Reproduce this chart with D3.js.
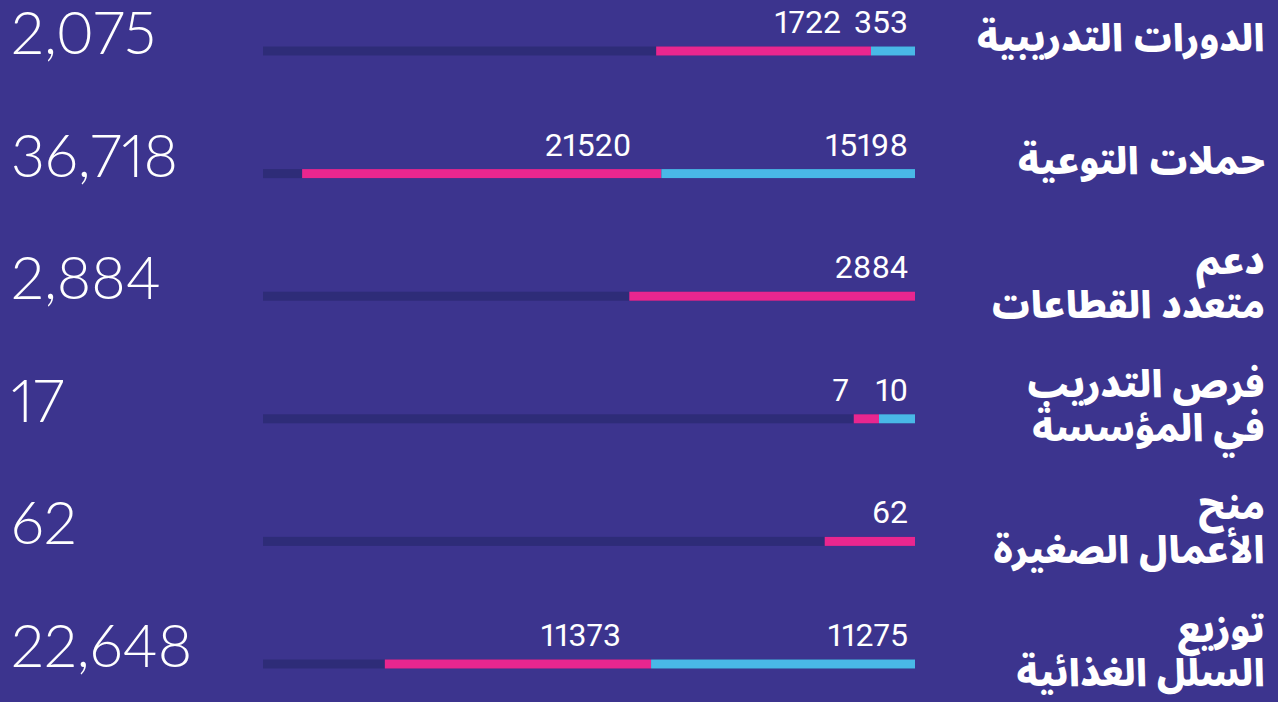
<!DOCTYPE html>
<html>
<head>
<meta charset="utf-8">
<script src="https://cdn.jsdelivr.net/npm/d3@7"></script>
<style>
  html, body { margin: 0; padding: 0; background: #3c348e; }
  svg { display: block; }
  .num { font-variant-numeric: proportional-nums; font-feature-settings: "pnum" 1; }
</style>
</head>
<body>
<svg id="bars" width="1278" height="702"></svg>
<script>
// categories (each label split in its printed lines)
const categories = [
  ["الدورات التدريبية"],
  ["حملات التوعية"],
  ["دعم", "متعدد القطاعات"],
  ["فرص التدريب", "في المؤسسة"],
  ["منح", "الأعمال الصغيرة"],
  ["توزيع", "السلل الغذائية"]
];
const pinkValues = [1722, 21520, 2884, 7, 62, 11373];
const blueValues = [353, 15198, 0, 10, 0, 11275];

const rows = categories.map((c, i) => ({
  key: i,
  label: c,
  pink: pinkValues[i],
  blue: blueValues[i],
  total: pinkValues[i] + blueValues[i]
}));

let svg = d3.select("#bars"),
  width = +svg.attr("width"),
  trackLeft = 263,
  trackRight = 915,
  barH = 9;

svg.append("rect")
  .attr("width", width)
  .attr("height", svg.attr("height"))
  .attr("fill", "#3c348e");

let yScale = d3.scalePoint()
  .domain(rows.map(d => d.key))
  .range([51, 664]);

// bars are not linear in the original, a soft power scale is the closest fit
let wScale = d3.scalePow()
  .exponent(0.3)
  .domain([0, d3.max(rows, d => d.total)])
  .range([0, (trackRight - trackLeft) * 0.94]);

const fmt = d3.format(",");

let g = svg.selectAll(".row")
  .data(rows)
  .enter()
  .append("g")
  .attr("class", "row")
  .attr("transform", d => "translate(0," + yScale(d.key) + ")");

// track
g.append("rect")
  .attr("x", trackLeft)
  .attr("y", -barH / 2)
  .attr("width", trackRight - trackLeft)
  .attr("height", barH)
  .attr("fill", "#2e2c78");

function blueW(d) { return wScale(d.total) * d.blue / d.total; }
function pinkW(d) { return wScale(d.total) * d.pink / d.total; }

g.append("rect")
  .attr("x", d => trackRight - blueW(d) - pinkW(d))
  .attr("y", -barH / 2)
  .attr("width", d => pinkW(d))
  .attr("height", barH)
  .attr("fill", "#e9268f");

g.append("rect")
  .attr("x", d => trackRight - blueW(d))
  .attr("y", -barH / 2)
  .attr("width", d => blueW(d))
  .attr("height", barH)
  .attr("fill", "#49b8e7");

// segment values
g.filter(d => d.blue > 0)
  .append("text")
  .attr("class", "num")
  .attr("x", trackRight - 7)
  .attr("y", -18)
  .attr("text-anchor", "end")
  .attr("fill", "#fff")
  .attr("font-family", "Roboto, sans-serif")
  .attr("font-size", "32px")
  .text(d => d.blue);

g.append("text")
  .attr("class", "num")
  .attr("x", d => trackRight - blueW(d) - (d.blue > 0 ? 30 : 7))
  .attr("y", -18)
  .attr("text-anchor", "end")
  .attr("fill", "#fff")
  .attr("font-family", "Roboto, sans-serif")
  .attr("font-size", "32px")
  .text(d => d.pink);

// totals on the left
g.append("text")
  .attr("class", "num")
  .attr("x", 11)
  .attr("y", 3)
  .attr("fill", "#fff")
  .attr("font-family", "Lato, sans-serif")
  .attr("font-weight", 300)
  .attr("font-size", "59px")
  .text(d => fmt(d.total));

// arabic labels on the right
let lab = g.append("text")
  .attr("text-anchor", "end")
  .attr("fill", "#fff")
  .attr("font-family", "'Noto Sans Arabic', 'DejaVu Sans', sans-serif")
  .attr("font-weight", 900)
  .attr("font-size", "37px");

lab.selectAll("tspan")
  .data(d => d.label.map((t, j) => ({ t: t, j: j, n: d.label.length })))
  .enter()
  .append("tspan")
  .attr("x", 1265)
  .attr("y", l => l.n === 1 ? 0 : (l.j === 0 ? -22 : 22))
  .text(l => l.t);
</script>
</body>
</html>
